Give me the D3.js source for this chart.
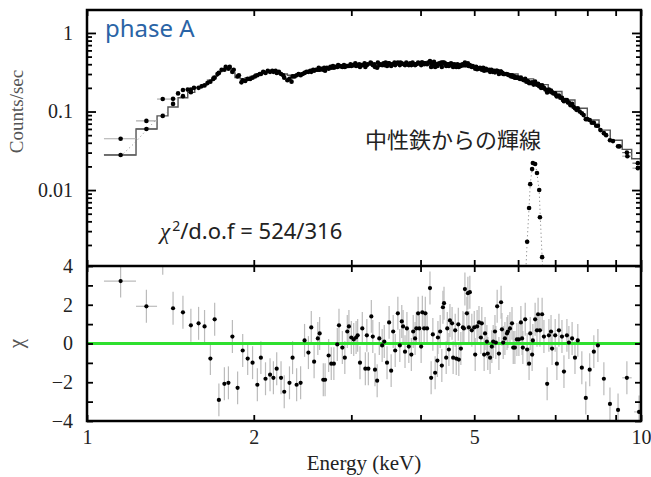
<!DOCTYPE html>
<html>
<head>
<meta charset="utf-8">
<script src="https://cdn.jsdelivr.net/npm/d3@7"></script>
<style>
  body { margin: 0; background: #fff; }
  svg { display: block; }
</style>
</head>
<body>
<div id="chart"></div>
<script>
// ---- data (energy in keV) ----
// spectrum, instrument A: [energy, counts/sec]
const specA = [[1.37,0.088],[1.43,0.125],[1.49,0.157],[1.49,0.188],[1.54,0.176],[1.54,0.19],[1.59,0.20],[1.63,0.215],[1.67,0.24],[1.70,0.27],
  [1.73,0.31],[1.77,0.34],[1.80,0.35],[1.83,0.32],[1.87,0.28],[1.91,0.25],[1.95,0.26],[1.99,0.27],[2.03,0.29],[2.06,0.30],
  [2.10,0.31],[2.14,0.32],[2.17,0.32],[2.20,0.31],[2.24,0.30],[2.27,0.27],[2.32,0.26],[2.35,0.28],[2.39,0.29],[2.43,0.29],
  [2.47,0.31],[2.51,0.32],[2.54,0.32],[2.57,0.33],[2.61,0.34],[2.63,0.34],[2.67,0.34],[2.69,0.33],[2.73,0.35],[2.76,0.36],
  [2.79,0.36],[2.83,0.37],[2.85,0.38],[2.89,0.37],[2.92,0.37],[2.95,0.38],[2.97,0.38],[3.00,0.38],[3.03,0.39],[3.06,0.38],
  [3.08,0.39],[3.11,0.37],[3.14,0.39],[3.18,0.37],[3.20,0.39],[3.26,0.41],[3.28,0.39],[3.31,0.37],[3.34,0.36],[3.37,0.39],
  [3.41,0.39],[3.44,0.39],[3.48,0.38],[3.51,0.41],[3.54,0.38],[3.57,0.40],[3.60,0.39],[3.64,0.42],[3.67,0.39],[3.70,0.41],
  [3.75,0.39],[3.78,0.40],[3.81,0.39],[3.85,0.39],[3.88,0.40],[3.91,0.39],[3.93,0.40],[3.96,0.42],[4.01,0.39],[4.03,0.42],
  [4.06,0.40],[4.08,0.41],[4.11,0.40],[4.16,0.44],[4.18,0.37],[4.21,0.40],[4.25,0.37],[4.29,0.38],[4.30,0.40],[4.34,0.40],
  [4.37,0.37],[4.39,0.42],[4.41,0.42],[4.45,0.38],[4.47,0.40],[4.50,0.38],[4.52,0.40],[4.56,0.40],[4.58,0.37],[4.62,0.39],
  [4.64,0.37],[4.68,0.39],[4.69,0.37],[4.73,0.38],[4.77,0.39],[4.79,0.39],[4.81,0.42],[4.85,0.40],[4.87,0.41],[4.89,0.38],
  [4.91,0.39],[4.95,0.37],[5.02,0.35],[5.06,0.345],[5.10,0.35],[5.16,0.34],[5.21,0.33],[5.27,0.335],[5.34,0.32],[5.40,0.32],
  [5.45,0.315],[5.50,0.33],[5.54,0.30],[5.59,0.32],[5.64,0.30],[5.68,0.30],[5.75,0.295],[5.80,0.29],[5.85,0.29],[5.88,0.275],
  [5.92,0.27],[5.97,0.27],[6.02,0.265],[6.07,0.27],[6.12,0.255],[6.18,0.26],[6.23,0.245],[6.28,0.23],[6.36,0.235],[6.44,0.24],
  [6.52,0.225],[6.57,0.215],[6.63,0.215],[6.68,0.20],[6.77,0.175],[6.82,0.19],[6.88,0.185],[6.91,0.175],[7.00,0.17],[7.05,0.155],
  [7.11,0.16],[7.20,0.15],[7.26,0.135],[7.35,0.14],[7.41,0.13],[7.51,0.125],[7.60,0.11],[7.69,0.11],[7.82,0.095],[7.95,0.080],
  [8.08,0.078],[8.22,0.072],[8.36,0.066],[8.57,0.053],[8.79,0.043],[9.09,0.036]];

// spectrum, instrument B
const specB = [[1.43,0.145],[1.46,0.17],[1.52,0.19],[1.56,0.20],[1.61,0.21],[1.65,0.23],[1.69,0.26],[1.72,0.30],[1.75,0.34],[1.78,0.37],
  [1.81,0.37],[1.84,0.34],[1.88,0.29],[1.90,0.235],[1.93,0.245],[1.97,0.26],[2.01,0.28],[2.05,0.30],[2.08,0.32],[2.12,0.33],
  [2.16,0.33],[2.19,0.33],[2.22,0.32],[2.26,0.29],[2.30,0.25],[2.34,0.24],[2.37,0.28],[2.41,0.30],[2.45,0.30],[2.49,0.32],
  [2.53,0.33],[2.56,0.34],[2.59,0.34],[2.62,0.36],[2.65,0.35],[2.68,0.36],[2.71,0.36],[2.75,0.37],[2.78,0.38],[2.81,0.37],
  [2.84,0.39],[2.87,0.38],[2.91,0.39],[2.94,0.38],[2.99,0.40],[3.02,0.39],[3.05,0.41],[3.10,0.40],[3.13,0.39],[3.17,0.41],
  [3.21,0.40],[3.25,0.42],[3.30,0.40],[3.35,0.42],[3.39,0.40],[3.43,0.41],[3.46,0.42],[3.50,0.41],[3.55,0.40],[3.59,0.42],
  [3.63,0.41],[3.68,0.42],[3.73,0.40],[3.77,0.42],[3.83,0.41],[3.87,0.42],[3.92,0.40],[3.97,0.41],[4.02,0.42],[4.07,0.41],
  [4.13,0.42],[4.19,0.41],[4.23,0.43],[4.27,0.40],[4.32,0.41],[4.36,0.42],[4.43,0.41],[4.49,0.40],[4.54,0.41],[4.60,0.40],
  [4.66,0.40],[4.71,0.39],[4.76,0.40],[4.83,0.39],[4.90,0.38],[4.97,0.38],[5.04,0.37],[5.12,0.36],[5.19,0.36],[5.25,0.35],
  [5.32,0.34],[5.37,0.34],[5.43,0.33],[5.48,0.33],[5.53,0.32],[5.57,0.31],[5.62,0.31],[5.66,0.30],[5.72,0.30],[5.78,0.29],
  [5.83,0.28],[5.90,0.28],[5.95,0.27],[6.00,0.27],[6.05,0.26],[6.15,0.25],[6.21,0.24],[6.26,0.24],[6.33,0.23],[6.40,0.22],
  [6.48,0.22],[6.55,0.21],[6.60,0.20],[6.66,0.20],[6.72,0.19],[6.80,0.18],[6.86,0.18],[6.95,0.17],[7.03,0.16],[7.15,0.15],
  [7.23,0.14],[7.30,0.14],[7.38,0.13],[7.46,0.12],[7.55,0.115],[7.65,0.105],[7.75,0.10],[7.88,0.090],[8.00,0.080],[8.15,0.072],
  [8.30,0.066],[8.45,0.058],[8.65,0.050],[8.90,0.042],[9.15,0.036]];

// wide bins at both ends of the band: [energy, lo, hi, counts, instrument]
const specWide = [[1.15,1.073,1.226,0.028,"A"],[1.28,1.226,1.338,0.060,"A"],
  [1.15,1.073,1.226,0.045,"B"],[1.28,1.226,1.338,0.076,"B"],[1.37,1.338,1.45,0.144,"B"],
  [9.43,9.25,9.62,0.030,"A"],[9.87,9.65,10.0,0.022,"A"],[9.45,9.25,9.62,0.027,"B"],[9.87,9.65,10.0,0.019,"B"]];

// folded model (instrument A), step per bin
const modelEdges = [1.073,1.226,1.338,1.40,1.46,1.52,1.565,1.61,1.65,1.685,1.72,1.75,1.785,1.82,1.85,1.89,1.93,1.97,2.01,2.05,
  2.12,2.2,2.3,2.4,2.5,2.7,2.9,3.2,3.6,4.0,4.4,4.8,5.2,5.6,6.0,6.4,6.8,7.2,7.6,8.0,8.4,8.8,9.25,9.62,10.0];
const modelCounts = [0.028,0.060,0.088,0.114,0.15,0.175,0.20,0.22,0.25,0.28,0.32,0.35,0.35,0.31,0.27,0.26,0.27,0.28,0.30,
  0.31,0.32,0.30,0.29,0.31,0.33,0.36,0.38,0.39,0.40,0.40,0.39,0.37,0.34,0.30,0.26,0.22,0.18,0.14,0.11,0.078,0.058,0.043,0.033,0.025];

// soft continuum component (dotted)
const softE = [1.15,1.22,1.28,1.34,1.40];
const softC = [0.027,0.040,0.058,0.082,0.10];

// Fe line component: data points and gaussian model (dotted)
const feE = [6.23,6.28,6.31,6.36,6.38,6.44,6.49,6.55,6.57,6.63];
const feC = [0.0022,0.0059,0.0119,0.0185,0.0221,0.0215,0.0165,0.0100,0.0045,0.0014];
const feModelE = [6.19,6.23,6.28,6.31,6.36,6.40,6.46,6.50,6.55,6.58,6.63,6.67];
const feModelC = [0.0008,0.0022,0.006,0.012,0.0185,0.022,0.020,0.015,0.0098,0.0045,0.0014,0.0006];

// residuals: [energy, chi]
const resPoints = [[1.37,4.4],[1.43,1.82],[1.49,1.61],[1.54,0.94],[1.59,1.04],[1.63,0.88],[1.67,-0.78],[1.70,1.25],[1.73,-2.91],[1.77,-2.08],
  [1.80,-2.03],[1.83,0.36],[1.87,-2.29],[1.91,-0.36],[1.95,-0.78],[1.99,-0.99],[2.03,-2.13],[2.06,-0.73],[2.10,-1.82],[2.14,-1.61],
  [2.17,-1.77],[2.20,-1.30],[2.24,-1.77],[2.27,-2.49],[2.32,-2.03],[2.35,-0.73],[2.39,-2.13],[2.43,-2.03],[2.47,0.16],[2.51,-0.47],
  [2.54,0.83],[2.57,-0.94],[2.61,0.26],[2.63,0.52],[2.67,-1.87],[2.69,-1.87],[2.73,-0.62],[2.76,-1.04],[2.79,-1.04],[2.83,-0.05],
  [2.85,0.94],[2.89,-0.21],[2.92,-0.73],[2.95,0.62],[2.97,0.88],[3.00,0.31],[3.03,0.21],[3.06,0.31],[3.08,0.42],[3.11,-0.99],
  [3.14,0.78],[3.18,-1.30],[3.20,0.42],[3.22,-1.30],[3.26,1.40],[3.28,0.36],[3.31,-1.35],[3.34,-1.92],[3.37,0.26],[3.41,-0.10],
  [3.44,0.10],[3.48,-0.99],[3.51,1.09],[3.54,-1.40],[3.57,0.62],[3.60,-0.36],[3.64,1.56],[3.67,-0.10],[3.70,1.14],[3.72,0.88],
  [3.75,-0.42],[3.78,0.78],[3.81,-0.16],[3.85,-0.57],[3.88,0.62],[3.91,0.26],[3.93,0.78],[3.96,1.56],[3.98,0.78],[4.01,-0.16],
  [4.03,1.61],[4.06,0.78],[4.08,1.56],[4.11,0.78],[4.16,2.86],[4.18,-1.77],[4.21,0.47],[4.25,-1.51],[4.29,-0.88],[4.30,0.31],
  [4.34,0.62],[4.37,-1.14],[4.39,1.87],[4.41,2.08],[4.45,-0.73],[4.47,0.78],[4.50,-0.31],[4.52,1.19],[4.56,1.04],[4.58,-0.73],
  [4.62,0.68],[4.64,-0.78],[4.68,0.99],[4.69,-0.83],[4.73,-0.26],[4.77,0.83],[4.79,0.78],[4.81,2.81],[4.85,1.56],[4.87,2.60],
  [4.89,0.83],[4.91,2.65],[4.95,0.68],[5.00,0.83],[5.02,-0.57],[5.06,0.88],[5.10,1.09],[5.14,0.31],[5.16,1.04],[5.21,-0.57],
  [5.23,0.52],[5.27,0.10],[5.29,-0.52],[5.34,-0.73],[5.38,-0.16],[5.41,0.10],[5.45,0.62],[5.47,0.05],[5.50,1.92],[5.54,-0.52],
  [5.59,2.13],[5.61,0.73],[5.64,0.05],[5.68,0.26],[5.73,0.52],[5.75,0.62],[5.80,0.78],[5.85,1.04],[5.88,-0.21],[5.92,-0.21],
  [5.97,0.21],[6.02,0.21],[6.07,1.09],[6.10,0.26],[6.12,-0.21],[6.18,1.25],[6.23,-0.31],[6.28,-1.04],[6.31,0.52],[6.36,-0.57],
  [6.38,0.16],[6.44,1.25],[6.49,0.68],[6.52,1.51],[6.57,0.68],[6.63,1.51],[6.68,0.36],[6.77,-2.08],[6.82,0.42],[6.88,0.62],
  [6.91,-0.26],[7.00,0.42],[7.05,-1.04],[7.11,0.68],[7.20,0.36],[7.26,-1.45],[7.35,0.42],[7.41,0.05],[7.51,0.26],[7.60,-0.73],
  [7.69,0.16],[7.82,-1.25],[7.95,-2.81],[8.08,-1.35],[8.22,-0.42],[8.36,-0.10],[8.57,-1.82],[8.79,-3.12],[9.09,-3.43]];
// wide-bin residuals: [energy, lo, hi, chi]
const resWide = [[1.15,1.073,1.226,3.22],[1.28,1.226,1.338,1.92],[9.43,9.25,9.62,-1.77],[9.92,9.72,10.0,-3.53]];
const chiErr = 0.85;

const xMajor = [1, 2, 5, 10];
const xTicks = [1, 2, 3, 4, 5, 6, 7, 8, 9, 10];
const yMajor = [0.01, 0.1, 1];
const resTicks = [-4, -3, -2, -1, 0, 1, 2, 3, 4];
const resLabels = [-4, -2, 0, 2, 4];

// ---- layout ----
const W = 651, H = 477;
const L = 87, R = 641, T = 10, MID = 266, B = 421;
const serif = "'Liberation Serif', 'Times New Roman', serif";

const svg = d3.select('#chart').append('svg').attr('width', W).attr('height', H);

const x = d3.scaleLog().domain([1, 10]).range([L, R]);
const yTop = d3.scaleLog().domain([0.00108, 1.96]).range([MID, T]);
const yRes = d3.scaleLinear().domain([-4, 4]).range([B, MID]);

const defs = svg.append('defs');
defs.append('clipPath').attr('id', 'clipTop').append('rect')
  .attr('x', L).attr('y', T).attr('width', R - L).attr('height', MID - T);
defs.append('clipPath').attr('id', 'clipRes').append('rect')
  .attr('x', L).attr('y', MID).attr('width', R - L).attr('height', B - MID);

// ---- upper panel ----
const upper = svg.append('g').attr('clip-path', 'url(#clipTop)');

// model step line
const modelPts = modelEdges.map((e, i) => [e, modelCounts[Math.min(i, modelCounts.length - 1)]]);
upper.append('path')
  .datum(modelPts)
  .attr('fill', 'none').attr('stroke', '#555').attr('stroke-width', 1.4)
  .attr('d', d3.line().x(d => x(d[0])).y(d => yTop(d[1])).curve(d3.curveStepAfter));

// dotted components
upper.append('path')
  .datum(softE.map((e, i) => [e, softC[i]]))
  .attr('fill', 'none').attr('stroke', '#888').attr('stroke-width', 1).attr('stroke-dasharray', '1,3')
  .attr('d', d3.line().x(d => x(d[0])).y(d => yTop(d[1])));
upper.append('path')
  .datum(feModelE.map((e, i) => [e, feModelC[i]]))
  .attr('fill', 'none').attr('stroke', '#777').attr('stroke-width', 1).attr('stroke-dasharray', '1,3')
  .attr('d', d3.line().x(d => x(d[0])).y(d => yTop(d[1])));

// wide-bin horizontal error bars
upper.selectAll('line.hbar')
  .data(specWide)
  .join('line').attr('class', 'hbar')
  .attr('x1', d => x(d[1])).attr('x2', d => x(d[2]))
  .attr('y1', d => yTop(d[3])).attr('y2', d => yTop(d[3]))
  .attr('stroke', d => d[4] === 'A' ? '#666' : '#aaa').attr('stroke-width', 1.2);

const allSpec = specA.concat(specB, specWide.map(d => [d[0], d[3]]), feE.map((e, i) => [e, feC[i]]));
upper.selectAll('circle.pt')
  .data(allSpec)
  .join('circle').attr('class', 'pt')
  .attr('cx', d => x(d[0])).attr('cy', d => yTop(d[1]))
  .attr('r', 2.3).attr('fill', '#000');

// ---- residual panel ----
const res = svg.append('g').attr('clip-path', 'url(#clipRes)');

res.selectAll('line.vbar')
  .data(resPoints.concat(resWide.map(d => [d[0], d[3]])))
  .join('line').attr('class', 'vbar')
  .attr('x1', d => x(d[0])).attr('x2', d => x(d[0]))
  .attr('y1', d => yRes(d[1] - chiErr)).attr('y2', d => yRes(d[1] + chiErr))
  .attr('stroke', '#bbb').attr('stroke-width', 1.2);

res.selectAll('line.hbar')
  .data(resWide)
  .join('line').attr('class', 'hbar')
  .attr('x1', d => x(d[1])).attr('x2', d => x(d[2]))
  .attr('y1', d => yRes(d[3])).attr('y2', d => yRes(d[3]))
  .attr('stroke', '#bbb').attr('stroke-width', 1.2);

res.append('line')
  .attr('x1', L).attr('x2', R).attr('y1', yRes(0)).attr('y2', yRes(0))
  .attr('stroke', '#2ee02e').attr('stroke-width', 3);

res.selectAll('circle.pt')
  .data(resPoints.concat(resWide.map(d => [d[0], d[3]])))
  .join('circle').attr('class', 'pt')
  .attr('cx', d => x(d[0])).attr('cy', d => yRes(d[1]))
  .attr('r', 2.1).attr('fill', '#000');

// ---- axes ----
function styleAxis(g) {
  g.select('.domain').remove();
  g.selectAll('.tick line').attr('stroke', '#000').attr('stroke-width', 1.8);
  g.selectAll('.tick text').attr('font-family', serif).attr('font-size', 20).attr('fill', '#222');
}
const noLabel = () => '';

// x ticks on every horizontal edge
[[T, 'top'], [MID, 'bottomIn'], [MID, 'topIn'], [B, 'bottom']].forEach(([yy, kind]) => {
  const ax = (kind === 'top' || kind === 'bottomIn') ? d3.axisTop(x) : d3.axisBottom(x);
  ax.tickValues(xTicks).tickSize(kind === 'top' || kind === 'bottom' ? -6 : 6)
    .tickFormat(kind === 'bottom' ? (d => xMajor.includes(d) ? d : '') : noLabel)
    .tickPadding(9);
  svg.append('g').attr('transform', `translate(0,${yy})`).call(ax).call(styleAxis);
});

// y ticks, upper panel (log) and residual panel
const yMinor = [];
[0.001, 0.01, 0.1, 1].forEach(dec => d3.range(2, 10).forEach(m => yMinor.push(dec * m)));
const yMinorIn = yMinor.filter(v => v >= 0.00108 && v <= 1.96);
[[L, d3.axisLeft, -1], [R, d3.axisRight, 1]].forEach(([xx, axFn, side]) => {
  svg.append('g').attr('transform', `translate(${xx},0)`)
    .call(axFn(yTop).tickValues(yMinorIn).tickSize(-5).tickFormat(noLabel)).call(styleAxis);
  svg.append('g').attr('transform', `translate(${xx},0)`)
    .call(axFn(yTop).tickValues(yMajor).tickSize(-9).tickPadding(14)
      .tickFormat(side < 0 ? (d => d3.format('~g')(d)) : noLabel)).call(styleAxis);
  svg.append('g').attr('transform', `translate(${xx},0)`)
    .call(axFn(yRes).tickValues(resTicks).tickSize(-6).tickPadding(14)
      .tickFormat(side < 0 ? (d => resLabels.includes(d) ? d3.format('d')(d) : '') : noLabel)).call(styleAxis);
});

// frame
svg.append('rect').attr('x', L).attr('y', T).attr('width', R - L).attr('height', B - T)
  .attr('fill', 'none').attr('stroke', '#000').attr('stroke-width', 2.5);
svg.append('line').attr('x1', L).attr('x2', R).attr('y1', MID).attr('y2', MID)
  .attr('stroke', '#000').attr('stroke-width', 2.5);

// ---- titles & annotations ----
svg.append('text').attr('x', 364).attr('y', 470).attr('text-anchor', 'middle')
  .attr('font-family', serif).attr('font-size', 21).attr('fill', '#222').text('Energy (keV)');
svg.append('text').attr('transform', `translate(23,${yTop(0.1)}) rotate(-90)`).attr('text-anchor', 'middle')
  .attr('font-family', serif).attr('font-size', 19).attr('fill', '#555').text('Counts/sec');
svg.append('text').attr('transform', `translate(23,${yRes(0)}) rotate(-90)`).attr('text-anchor', 'middle')
  .attr('font-family', serif).attr('font-size', 21).attr('fill', '#555').text('χ');

svg.append('text').attr('x', 105).attr('y', 37)
  .attr('font-family', "'Noto Sans', sans-serif").attr('font-size', 24).attr('fill', '#2a64a6').text('phase A');
svg.append('text').attr('x', 365).attr('y', 148)
  .attr('font-family', "'Noto Sans CJK JP', sans-serif").attr('font-size', 22).attr('fill', '#222').text('中性鉄からの輝線');
const chiText = svg.append('text').attr('x', 160).attr('y', 239)
  .attr('font-family', "'Noto Sans', sans-serif").attr('font-size', 22).attr('fill', '#222');
chiText.append('tspan').attr('font-family', serif).attr('font-style', 'italic').attr('font-size', 23).text('χ');
chiText.append('tspan').attr('dx', 2).attr('dy', -8).attr('font-size', 14).text('2');
chiText.append('tspan').attr('dy', 8).text('/d.o.f = 524/316');
</script>
</body>
</html>
